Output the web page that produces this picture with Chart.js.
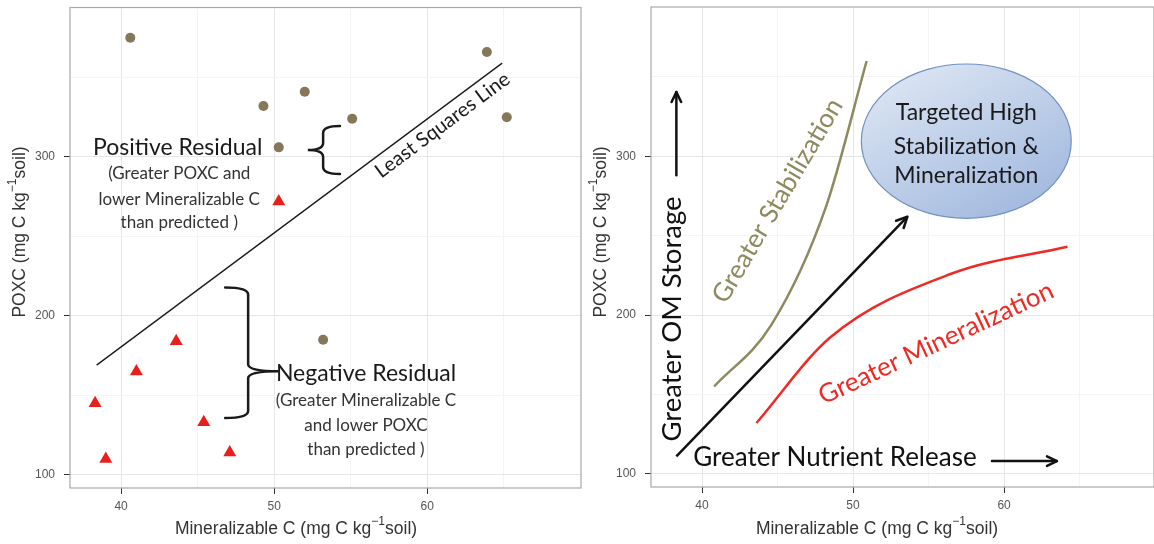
<!DOCTYPE html>
<html>
<head>
<meta charset="utf-8">
<script src="https://cdn.jsdelivr.net/npm/chart.js@4.4.0/dist/chart.umd.min.js"></script>
<style>
  body { margin: 0; background: #fff; width: 1154px; height: 544px; overflow: hidden; position: relative; }
  canvas { position: absolute; top: 0; }
  #left { left: 0; }
  #right { left: 580px; }
</style>
</head>
<body>
<canvas id="left" width="590" height="544"></canvas>
<canvas id="right" width="574" height="544"></canvas>
<script>
/* -----------data----------------------------------- */
// left panel: positive residual samples (circles) and negative residual samples (triangles)
const posX = [40.6, 49.3, 50.3, 52.0, 55.1, 53.2, 63.9, 65.2];
const posY = [375, 332, 306, 341, 324, 185, 366, 325];
const negX = [38.3, 39.0, 41.0, 43.6, 45.4, 47.1, 50.3];
const negY = [145, 110, 165, 184, 133, 114, 272];
const lsqX = [38.4, 64.9];
const lsqY = [169, 359];

// right panel: conceptual curves
const stabX = [40.8, 44.6, 48.2, 50.9];
const stabY = [155, 194, 268, 360];
const minX = [43.6, 48.5, 56.5, 64.2];
const minY = [132, 186, 226, 243];
const arrowX = [38.3, 53.6];
const arrowY = [111, 262];

const xTicks = [40, 50, 60];
const xMinor = [45, 55, 65];
const yTicks = [100, 200, 300];
const yMinor = [150, 250, 350];

const sans = 'Lato, "Open Sans", sans-serif';
const axisFont = '"Liberation Sans", Arial, sans-serif';

const pts = (xs, ys) => xs.map((x, i) => ({ x: x, y: ys[i] }));

/* -----------drawing helpers-------------- */
function P(chart, x, y) {
  return { x: chart.scales.x.getPixelForValue(x), y: chart.scales.y.getPixelForValue(y) };
}

function label(ctx, text, p, size, color, angle) {
  ctx.save();
  ctx.translate(p.x, p.y);
  if (angle) ctx.rotate(angle * Math.PI / 180);
  ctx.font = size + 'px ' + sans;
  ctx.fillStyle = color || '#1a1a1a';
  ctx.textAlign = 'center';
  ctx.textBaseline = 'middle';
  ctx.fillText(text, 0, 0);
  ctx.restore();
}

// curly brace: ends on one side of the spine, tip on the other
function brace(ctx, tip, spine, end, top, bottom, mid) {
  const r = 7;
  ctx.beginPath();
  ctx.moveTo(end, top);
  ctx.quadraticCurveTo(spine, top, spine, top + r);
  ctx.lineTo(spine, mid - r);
  ctx.quadraticCurveTo(spine, mid, tip, mid);
  ctx.quadraticCurveTo(spine, mid, spine, mid + r);
  ctx.lineTo(spine, bottom - r);
  ctx.quadraticCurveTo(spine, bottom, end, bottom);
  ctx.stroke();
}

function arrowHead(ctx, a, b, head) {
  const ang = Math.atan2(b.y - a.y, b.x - a.x);
  ctx.beginPath();
  ctx.moveTo(b.x - head * Math.cos(ang - 0.45), b.y - head * Math.sin(ang - 0.45));
  ctx.lineTo(b.x, b.y);
  ctx.lineTo(b.x - head * Math.cos(ang + 0.45), b.y - head * Math.sin(ang + 0.45));
  ctx.stroke();
}

function arrow(ctx, a, b, head) {
  ctx.beginPath();
  ctx.moveTo(a.x, a.y);
  ctx.lineTo(b.x, b.y);
  ctx.stroke();
  arrowHead(ctx, a, b, head);
}

function axisTitle(ctx, cx, cy, rot, pre, sup, post) {
  ctx.save();
  ctx.translate(cx, cy);
  ctx.rotate(rot);
  const big = '17.5px ' + axisFont, small = '12px ' + axisFont;
  ctx.font = big;
  const w1 = ctx.measureText(pre).width, w3 = ctx.measureText(post).width;
  ctx.font = small;
  const w2 = ctx.measureText(sup).width;
  let x = -(w1 + w2 + w3) / 2;
  ctx.fillStyle = '#333';
  ctx.textBaseline = 'middle';
  ctx.font = big; ctx.fillText(pre, x, 0); x += w1;
  ctx.font = small; ctx.fillText(sup, x, -7); x += w2;
  ctx.font = big; ctx.fillText(post, x, 0);
  ctx.restore();
}

/* -----------plugins-------------- */
const frame = {
  id: 'frame',
  beforeDatasetsDraw(chart) {
    const { ctx, chartArea: a } = chart;
    ctx.save();
    ctx.strokeStyle = '#a8a8a8';
    ctx.lineWidth = 1.2;
    ctx.strokeRect(a.left, a.top, a.right - a.left, a.bottom - a.top);
    ctx.restore();
  },
  afterDraw(chart) {
    const { ctx, chartArea: a } = chart;
    axisTitle(ctx, a.left + 226, 529, 0, 'Mineralizable C (mg C kg', '\u22121', 'soil)');
    axisTitle(ctx, a.left - 50, 232, -Math.PI / 2, 'POXC (mg C kg', '\u22121', 'soil)');
  }
};

const leftNotes = {
  id: 'leftNotes',
  afterDatasetsDraw(chart) {
    const ctx = chart.ctx;
    ctx.save();
    ctx.strokeStyle = '#1a1a1a';
    ctx.lineWidth = 2.5;
    ctx.lineCap = 'round';
    // brace for the positive residual
    let t = P(chart, 52.2, 319.4), s = P(chart, 53.2, 304.4), e = P(chart, 54.3, 289.3);
    brace(ctx, t.x, s.x, e.x, t.y, e.y, s.y);
    // brace for the negative residual
    t = P(chart, 50.3, 217.9); s = P(chart, 48.3, 165.2); e = P(chart, 46.8, 135.7);
    brace(ctx, t.x, s.x, e.x, t.y, e.y, s.y);
    ctx.restore();

    label(ctx, 'Positive Residual', P(chart, 43.7, 305.6), 23, '#1a1a1a');
    label(ctx, '(Greater POXC and', P(chart, 43.8, 289.3), 17, '#333');
    label(ctx, 'lower Mineralizable C', P(chart, 43.8, 273), 17, '#333');
    label(ctx, 'than predicted )', P(chart, 43.8, 258.6), 17, '#333');

    label(ctx, 'Negative Residual', P(chart, 56.0, 164), 23, '#1a1a1a');
    label(ctx, '(Greater Mineralizable C', P(chart, 56.0, 147), 17, '#333');
    label(ctx, 'and lower POXC', P(chart, 56.0, 131.3), 17, '#333');
    label(ctx, 'than predicted )', P(chart, 56.0, 115.7), 17, '#333');

    const a = P(chart, lsqX[0], lsqY[0]), b = P(chart, lsqX[1], lsqY[1]);
    const ang = Math.atan2(b.y - a.y, b.x - a.x) * 180 / Math.PI;
    label(ctx, 'Least Squares Line', P(chart, 61.0, 320.0), 20, '#1a1a1a', ang);
  }
};

const rightNotes = {
  id: 'rightNotes',
  beforeDatasetsDraw(chart) {
    const ctx = chart.ctx;
    const c = P(chart, 57.5, 309.5);
    const rx = P(chart, 57.5 + 6.95, 309.5).x - c.x;
    const ry = c.y - P(chart, 57.5, 309.5 + 48.6).y;
    const g = ctx.createLinearGradient(c.x - rx * 0.4, c.y - ry, c.x + rx * 0.4, c.y + ry);
    g.addColorStop(0, '#d9e3f2');
    g.addColorStop(1, '#a3badf');
    ctx.save();
    ctx.beginPath();
    ctx.ellipse(c.x, c.y, rx, ry, 0, 0, Math.PI * 2);
    ctx.fillStyle = g;
    ctx.fill();
    ctx.strokeStyle = '#7390c2';
    ctx.lineWidth = 1.2;
    ctx.stroke();
    ctx.restore();
  },
  afterDatasetsDraw(chart) {
    const ctx = chart.ctx;
    ctx.save();
    ctx.strokeStyle = '#111';
    ctx.lineWidth = 2.5;
    ctx.lineCap = 'round';
    ctx.lineJoin = 'round';
    const ends = chart.getDatasetMeta(2).data;
    arrowHead(ctx, ends[0], ends[1], 12);
    arrow(ctx, P(chart, 38.3, 288), P(chart, 38.3, 340.4), 11);
    arrow(ctx, P(chart, 59.2, 108), P(chart, 63.5, 108), 11);
    ctx.restore();

    label(ctx, 'Targeted High', P(chart, 57.5, 327.8), 23, '#1a1a1a');
    label(ctx, 'Stabilization &', P(chart, 57.5, 306.3), 23, '#1a1a1a');
    label(ctx, 'Mineralization', P(chart, 57.5, 288), 23, '#1a1a1a');

    label(ctx, 'Greater Stabilization', P(chart, 45.0, 272.0), 26, '#8c8a5e', -59.5);
    label(ctx, 'Greater Mineralization', P(chart, 55.5, 182.3), 26, '#ee2a24', -25);
    label(ctx, 'Greater OM Storage', P(chart, 38.0, 197.5), 27.5, '#111', -90);
    label(ctx, 'Greater Nutrient Release', P(chart, 48.8, 110.4), 26, '#111');
  }
};

/* -----------scales-------------- */
function scaleOpts(min, max, major, minor, fitProp, fitSize, pad) {
  return {
    type: 'linear',
    min: min,
    max: max,
    afterBuildTicks: s => { s.ticks = major.concat(minor).sort((a, b) => a - b).map(v => ({ value: v })); },
    afterFit: s => {
      s[fitProp] = fitSize;
      // panel edges are fixed by layout.padding, not by label overhang
      s.paddingTop = s.paddingBottom = s.paddingLeft = s.paddingRight = 0;
    },
    grid: {
      color: c => (c.tick && major.includes(c.tick.value)) ? '#e6e6e6' : '#f4f4f4',
      tickColor: c => (c.tick && major.includes(c.tick.value)) ? '#333' : 'rgba(0,0,0,0)',
      tickLength: 6,
      lineWidth: 1
    },
    border: { display: false },
    ticks: {
      autoSkip: false,
      maxRotation: 0,
      padding: pad,
      color: '#555',
      font: { family: axisFont, size: 12 },
      callback: v => major.includes(v) ? String(v) : ''
    }
  };
}

function baseOptions(xMin, xMax, yWidth, xHeight, pad) {
  return {
    responsive: false,
    animation: false,
    layout: { padding: pad },
    plugins: { legend: { display: false }, tooltip: { enabled: false } },
    scales: {
      x: scaleOpts(xMin, xMax, xTicks, xMinor, 'height', xHeight, 5),
      y: scaleOpts(91.7, 394, yTicks, yMinor, 'width', yWidth, 9)
    }
  };
}

/* -----------charts-------------- */
new Chart(document.getElementById('left'), {
  type: 'scatter',
  data: {
    datasets: [{
      data: pts(posX, posY),
      pointStyle: 'circle',
      pointRadius: 5,
      backgroundColor: '#86765a',
      borderWidth: 0
    }, {
      data: pts(negX, negY),
      pointStyle: 'triangle',
      pointRadius: 7.5,
      backgroundColor: '#e8201c',
      borderWidth: 0
    }, {
      data: pts(lsqX, lsqY),
      showLine: true,
      pointRadius: 0,
      borderColor: '#1a1a1a',
      borderWidth: 1.3
    }]
  },
  options: baseOptions(36.66, 70.05, 70, 56, { top: 6, right: 9, left: 0, bottom: 0 }),
  plugins: [frame, leftNotes]
});

new Chart(document.getElementById('right'), {
  type: 'scatter',
  data: {
    datasets: [{
      data: pts(stabX, stabY),
      showLine: true,
      pointRadius: 0,
      borderColor: '#8c8a5e',
      borderWidth: 2.5,
      cubicInterpolationMode: 'monotone'
    }, {
      data: pts(minX, minY),
      showLine: true,
      pointRadius: 0,
      borderColor: '#ee2a24',
      borderWidth: 2.5,
      cubicInterpolationMode: 'monotone'
    }, {
      data: pts(arrowX, arrowY),
      showLine: true,
      pointRadius: 0,
      borderColor: '#111',
      borderWidth: 2.5
    }]
  },
  options: baseOptions(36.62, 69.93, 71, 57, { top: 7, right: 0, left: 0, bottom: 0 }),
  plugins: [frame, rightNotes]
});
</script>
</body>
</html>
